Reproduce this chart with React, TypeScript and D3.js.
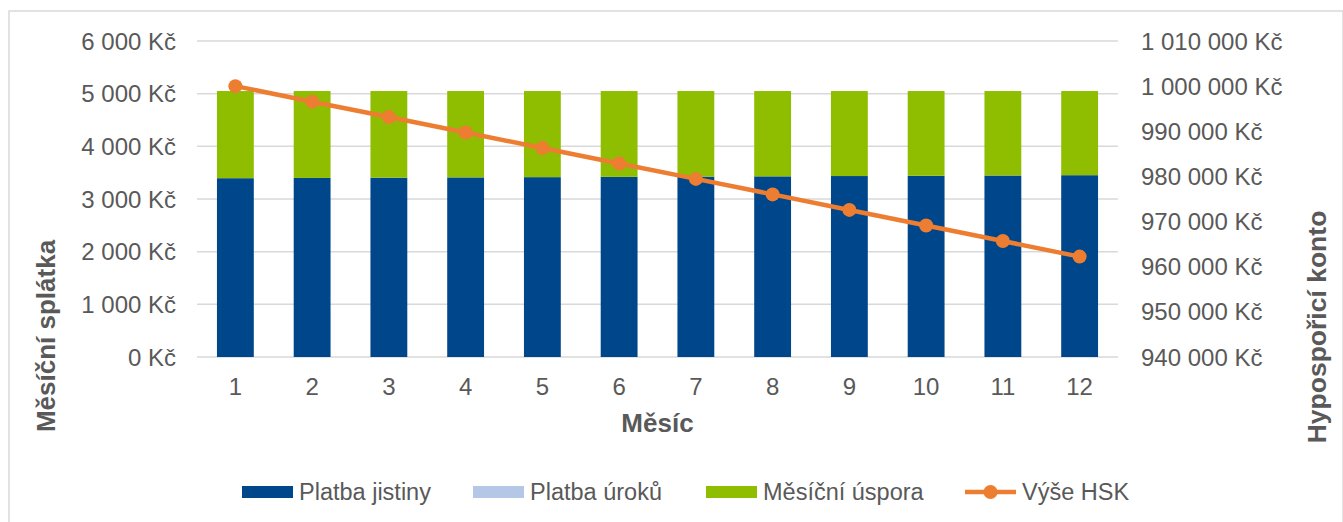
import { useRef, useEffect } from "react";
import * as d3 from "d3";

const months = ["1", "2", "3", "4", "5", "6", "7", "8", "9", "10", "11", "12"];
const principal = [3395, 3400, 3405, 3410, 3415, 3420, 3425, 3430, 3436, 3441, 3446, 3452];
const interest = [0, 0, 0, 0, 0, 0, 0, 0, 0, 0, 0, 0];
const savings = [1655, 1650, 1645, 1640, 1635, 1630, 1625, 1620, 1614, 1609, 1604, 1598];
const hsk = [1000000, 996560, 993150, 989730, 986310, 982880, 979450, 976020, 972580, 969140, 965690, 962240];
const leftTicks = [0, 1000, 2000, 3000, 4000, 5000, 6000];
const rightTicks = [940000, 950000, 960000, 970000, 980000, 990000, 1000000, 1010000];

const W = 1343;
const H = 522;
const font = "'Liberation Sans', Arial, sans-serif";
const textColor = "#595959";
const gridColor = "#d9d9d9";
const colors = {
  principal: "#00468b",
  interest: "#b4c7e7",
  savings: "#8fbe00",
  hsk: "#ed7d31",
};

const fmt = (v: number) =>
  d3.format(",")(v).replace(/,/g, " ") + " Kč";

export default function App() {
  const svgRef = useRef<SVGSVGElement>(null);

  useEffect(() => {
    if (!svgRef.current) return;
    const svg = d3.select(svgRef.current);
    svg.selectAll("*").remove();

    const plot = { left: 197, right: 1118, top: 41, bottom: 357 };

    const x = d3
      .scaleBand<string>()
      .domain(months)
      .range([plot.left, plot.right])
      .paddingInner(0.52)
      .paddingOuter(0.26);
    const yLeft = d3.scaleLinear().domain([0, 6000]).range([plot.bottom, plot.top]);
    const yRight = d3
      .scaleLinear()
      .domain([940000, 1010000])
      .range([plot.bottom, plot.top]);

    // chart border
    svg
      .append("rect")
      .attr("x", 9)
      .attr("y", 11)
      .attr("width", W - 9)
      .attr("height", H)
      .attr("fill", "#fff")
      .attr("stroke", gridColor)
      .attr("stroke-width", 1.5);

    // gridlines
    svg
      .append("g")
      .selectAll("line")
      .data(leftTicks)
      .join("line")
      .attr("x1", plot.left)
      .attr("x2", plot.right)
      .attr("y1", (d) => yLeft(d))
      .attr("y2", (d) => yLeft(d))
      .attr("stroke", gridColor)
      .attr("stroke-width", 1.5);

    // left tick labels
    svg
      .append("g")
      .selectAll("text")
      .data(leftTicks)
      .join("text")
      .attr("x", 176)
      .attr("y", (d) => yLeft(d))
      .attr("dy", "0.36em")
      .attr("text-anchor", "end")
      .attr("font-family", font)
      .attr("font-size", 24)
      .attr("fill", textColor)
      .text((d) => fmt(d));

    // right tick labels
    svg
      .append("g")
      .selectAll("text")
      .data(rightTicks)
      .join("text")
      .attr("x", 1141)
      .attr("y", (d) => yRight(d))
      .attr("dy", "0.36em")
      .attr("text-anchor", "start")
      .attr("font-family", font)
      .attr("font-size", 24)
      .attr("fill", textColor)
      .text((d) => fmt(d));

    // stacked bars
    const rows = months.map((m, i) => ({
      month: m,
      principal: principal[i],
      interest: interest[i],
      savings: savings[i],
    }));
    const keys = ["principal", "interest", "savings"];
    const series = d3.stack<(typeof rows)[number]>().keys(keys)(rows);

    svg
      .append("g")
      .selectAll("g")
      .data(series)
      .join("g")
      .attr("fill", (s) => colors[s.key as keyof typeof colors])
      .selectAll("rect")
      .data((s) => s)
      .join("rect")
      .attr("x", (d) => x(d.data.month)!)
      .attr("width", x.bandwidth())
      .attr("y", (d) => yLeft(d[1]))
      .attr("height", (d) => yLeft(d[0]) - yLeft(d[1]));

    // line
    const cx = (i: number) => x(months[i])! + x.bandwidth() / 2;
    const line = d3
      .line<number>()
      .x((_, i) => cx(i))
      .y((d) => yRight(d));

    svg
      .append("path")
      .datum(hsk)
      .attr("d", line)
      .attr("fill", "none")
      .attr("stroke", colors.hsk)
      .attr("stroke-width", 4.5)
      .attr("stroke-linejoin", "round");

    svg
      .append("g")
      .selectAll("circle")
      .data(hsk)
      .join("circle")
      .attr("cx", (_, i) => cx(i))
      .attr("cy", (d) => yRight(d))
      .attr("r", 7)
      .attr("fill", colors.hsk);

    // x labels
    svg
      .append("g")
      .selectAll("text")
      .data(months)
      .join("text")
      .attr("x", (d) => x(d)! + x.bandwidth() / 2)
      .attr("y", 386)
      .attr("dy", "0.36em")
      .attr("text-anchor", "middle")
      .attr("font-family", font)
      .attr("font-size", 24)
      .attr("fill", textColor)
      .text((d) => d);

    // axis titles
    svg
      .append("text")
      .attr("x", (plot.left + plot.right) / 2)
      .attr("y", 423)
      .attr("dy", "0.36em")
      .attr("text-anchor", "middle")
      .attr("font-family", font)
      .attr("font-size", 26)
      .attr("font-weight", "bold")
      .attr("fill", textColor)
      .text("Měsíc");

    svg
      .append("text")
      .attr("transform", "translate(46,336) rotate(-90)")
      .attr("dy", "0.36em")
      .attr("text-anchor", "middle")
      .attr("font-family", font)
      .attr("font-size", 26)
      .attr("font-weight", "bold")
      .attr("fill", textColor)
      .text("Měsíční splátka");

    svg
      .append("text")
      .attr("transform", "translate(1316,327) rotate(-90)")
      .attr("dy", "0.36em")
      .attr("text-anchor", "middle")
      .attr("font-family", font)
      .attr("font-size", 26.5)
      .attr("font-weight", "bold")
      .attr("fill", textColor)
      .text("Hypospořicí konto");

    // legend
    const legend = [
      { label: "Platba jistiny", color: colors.principal, x: 242, line: false },
      { label: "Platba úroků", color: colors.interest, x: 473, line: false },
      { label: "Měsíční úspora", color: colors.savings, x: 706, line: false },
      { label: "Výše HSK", color: colors.hsk, x: 965, line: true },
    ];
    const ly = 492;
    const lg = svg.append("g");
    legend.forEach((item) => {
      if (item.line) {
        lg.append("line")
          .attr("x1", item.x)
          .attr("x2", item.x + 51)
          .attr("y1", ly)
          .attr("y2", ly)
          .attr("stroke", item.color)
          .attr("stroke-width", 4.5);
        lg.append("circle")
          .attr("cx", item.x + 25.5)
          .attr("cy", ly)
          .attr("r", 7)
          .attr("fill", item.color);
      } else {
        lg.append("rect")
          .attr("x", item.x)
          .attr("y", ly - 6)
          .attr("width", 51)
          .attr("height", 12)
          .attr("fill", item.color);
      }
      lg.append("text")
        .attr("x", item.x + 57)
        .attr("y", ly)
        .attr("dy", "0.36em")
        .attr("font-family", font)
        .attr("font-size", 23.5)
        .attr("fill", textColor)
        .text(item.label);
    });
  }, []);

  return (
    <svg
      ref={svgRef}
      width={W}
      height={H}
      style={{ position: "absolute", top: 0, left: 0, background: "#fff" }}
    />
  );
}
